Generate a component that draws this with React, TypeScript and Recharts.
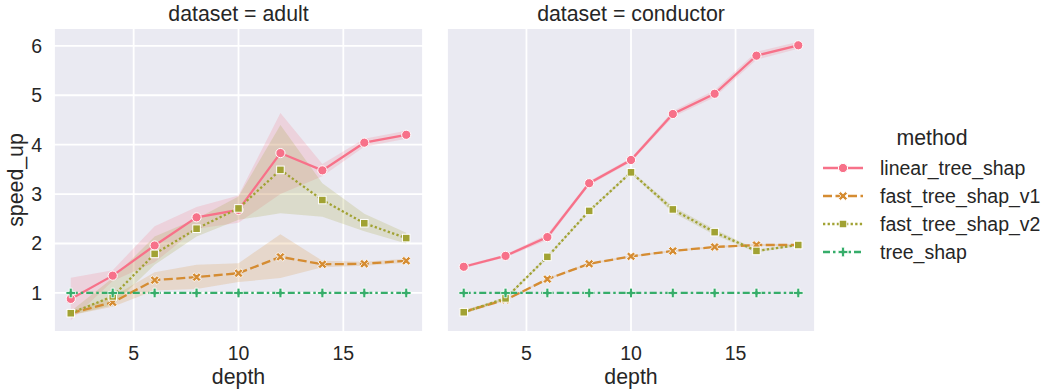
import { ComposedChart, Line, Area, XAxis, YAxis, CartesianGrid } from 'recharts';

const depths = [2, 4, 6, 8, 10, 12, 14, 16, 18];
const methodNames = ['linear_tree_shap', 'fast_tree_shap_v1', 'fast_tree_shap_v2', 'tree_shap'];
const xTicks = [5, 10, 15];
const yTicks = [1, 2, 3, 4, 5, 6];

// dataset = adult
const adultLinear = [0.88, 1.35, 1.96, 2.53, 2.68, 3.83, 3.48, 4.04, 4.2];
const adultLinearLo = [0.45, 1.24, 1.62, 2.3, 2.42, 3.0, 3.36, 3.96, 4.12];
const adultLinearHi = [1.31, 1.46, 2.35, 2.74, 2.97, 4.64, 3.61, 4.12, 4.28];
const adultV1 = [0.59, 0.81, 1.26, 1.32, 1.4, 1.73, 1.58, 1.59, 1.65];
const adultV1Lo = [0.55, 0.72, 1.05, 1.08, 1.22, 1.3, 1.52, 1.55, 1.61];
const adultV1Hi = [0.63, 0.93, 1.42, 1.57, 1.6, 2.19, 1.65, 1.63, 1.69];
const adultV2 = [0.59, 0.93, 1.79, 2.3, 2.71, 3.49, 2.88, 2.41, 2.11];
const adultV2Lo = [0.55, 0.75, 1.57, 2.14, 2.48, 2.61, 2.54, 2.25, 2.0];
const adultV2Hi = [0.63, 1.3, 2.14, 2.5, 2.95, 4.4, 3.22, 2.6, 2.22];
const adultTree = [1, 1, 1, 1, 1, 1, 1, 1, 1];

// dataset = conductor
const condLinear = [1.53, 1.75, 2.13, 3.22, 3.69, 4.62, 5.03, 5.8, 6.01];
const condLinearLo = [1.5, 1.72, 2.07, 3.18, 3.65, 4.56, 4.96, 5.72, 5.94];
const condLinearHi = [1.56, 1.78, 2.19, 3.26, 3.73, 4.68, 5.1, 5.88, 6.08];
const condV1 = [0.62, 0.86, 1.28, 1.59, 1.74, 1.85, 1.93, 1.97, 1.97];
const condV1Lo = [0.58, 0.84, 1.26, 1.57, 1.72, 1.83, 1.91, 1.95, 1.95];
const condV1Hi = [0.66, 0.88, 1.3, 1.61, 1.76, 1.87, 1.95, 1.99, 1.99];
const condV2 = [0.61, 0.89, 1.73, 2.66, 3.44, 2.69, 2.23, 1.85, 1.97];
const condV2Lo = [0.58, 0.86, 1.7, 2.63, 3.41, 2.63, 2.17, 1.82, 1.95];
const condV2Hi = [0.64, 0.92, 1.76, 2.69, 3.47, 2.75, 2.29, 1.88, 1.99];
const condTree = [1, 1, 1, 1, 1, 1, 1, 1, 1];

const COLORS = ['#f77189', '#d58c32', '#a1a233', '#36ad6a'];
const DASHES = [undefined, '9 3.5', '2.3 2.3', '7 3 2.5 3'];
const SHAPES = ['circle', 'x', 'square', 'plus'];
const FONT = '"Liberation Sans", Arial, sans-serif';
const TEXT = '#262626';

function buildRows(lin, linLo, linHi, v1, v1Lo, v1Hi, v2, v2Lo, v2Hi, tree) {
  return depths.map((d, i) => ({
    depth: d,
    m0: lin[i],
    b0: [linLo[i], linHi[i]],
    m1: v1[i],
    b1: [v1Lo[i], v1Hi[i]],
    m2: v2[i],
    b2: [v2Lo[i], v2Hi[i]],
    m3: tree[i],
  }));
}

const adultRows = buildRows(adultLinear, adultLinearLo, adultLinearHi, adultV1, adultV1Lo, adultV1Hi, adultV2, adultV2Lo, adultV2Hi, adultTree);
const condRows = buildRows(condLinear, condLinearLo, condLinearHi, condV1, condV1Lo, condV1Hi, condV2, condV2Lo, condV2Hi, condTree);

function Marker({ cx, cy, shape, color }) {
  if (cx == null || cy == null) return null;
  if (shape === 'circle') {
    return <circle cx={cx} cy={cy} r={4.6} fill={color} stroke="#fff" strokeWidth={1} />;
  }
  if (shape === 'square') {
    return <rect x={cx - 3.8} y={cy - 3.8} width={7.6} height={7.6} fill={color} stroke="#fff" strokeWidth={1} />;
  }
  const a = 4.8;
  const w = 1.5;
  const plus = `M${-w},${-a}H${w}V${-w}H${a}V${w}H${w}V${a}H${-w}V${w}H${-a}V${-w}H${-w}Z`;
  return (
    <path
      d={plus}
      transform={`translate(${cx},${cy}) rotate(${shape === 'x' ? 45 : 0})`}
      fill={color}
      stroke="#fff"
      strokeWidth={0.8}
    />
  );
}

function Panel({ rows, left, width, margin, showY }) {
  return (
    <div style={{ position: 'absolute', left, top: 0 }}>
      <ComposedChart width={width} height={390} data={rows} margin={margin}>
        <CartesianGrid fill="#eaeaf2" stroke="#ffffff" strokeWidth={1.8} />
        <XAxis
          dataKey="depth"
          type="number"
          domain={[1.2, 18.8]}
          ticks={xTicks}
          axisLine={false}
          tickLine={false}
          height={58}
          tickMargin={8}
          tick={{ fontSize: 19.5, fill: TEXT, fontFamily: FONT }}
          label={{ value: 'depth', position: 'insideBottom', offset: 6, fontSize: 21.3, fill: TEXT, fontFamily: FONT }}
        />
        <YAxis
          type="number"
          domain={[0.21, 6.36]}
          ticks={yTicks}
          axisLine={false}
          tickLine={false}
          width={showY ? 54 : 0}
          tickMargin={6}
          tick={showY ? { fontSize: 19.5, fill: TEXT, fontFamily: FONT } : false}
        />
        {[0, 1, 2].map((k) => (
          <Area
            key={`band-${k}`}
            dataKey={`b${k}`}
            stroke="none"
            fill={COLORS[k]}
            fillOpacity={0.2}
            dot={false}
            activeDot={false}
            isAnimationActive={false}
          />
        ))}
        {[0, 1, 2, 3].map((k) => (
          <Line
            key={`line-${k}`}
            dataKey={`m${k}`}
            stroke={COLORS[k]}
            strokeWidth={2.3}
            strokeDasharray={DASHES[k]}
            activeDot={false}
            isAnimationActive={false}
            dot={(p) => <Marker key={`dot-${k}-${p.index}`} cx={p.cx} cy={p.cy} shape={SHAPES[k]} color={COLORS[k]} />}
          />
        ))}
      </ComposedChart>
    </div>
  );
}

function Overlay() {
  const rowY = [168, 196, 224, 252];
  return (
    <svg width={1045} height={390} style={{ position: 'absolute', left: 0, top: 0, pointerEvents: 'none' }}>
      <g fontFamily={FONT} fill={TEXT}>
        <text x={238.5} y={21} fontSize={21.3} textAnchor="middle">dataset = adult</text>
        <text x={631} y={21} fontSize={21.3} textAnchor="middle">dataset = conductor</text>
        <text transform="translate(23,180) rotate(-90)" fontSize={21.3} textAnchor="middle">speed_up</text>
        <text x={932} y={145} fontSize={21.3} textAnchor="middle">method</text>
        {methodNames.map((name, k) => (
          <g key={name}>
            <line x1={823} x2={863} y1={rowY[k]} y2={rowY[k]} stroke={COLORS[k]} strokeWidth={2.3} strokeDasharray={DASHES[k]} />
            <Marker cx={843} cy={rowY[k]} shape={SHAPES[k]} color={COLORS[k]} />
            <text x={880} y={rowY[k] + 7} fontSize={19.5}>{name}</text>
          </g>
        ))}
      </g>
    </svg>
  );
}

export default function App() {
  return (
    <div style={{ position: 'absolute', left: 0, top: 0, width: 1045, height: 390, background: '#fff' }}>
      <Panel rows={adultRows} left={0} width={430} margin={{ top: 28, right: 7, bottom: 0, left: 0 }} showY />
      <Panel rows={condRows} left={440} width={380} margin={{ top: 28, right: 5, bottom: 0, left: 7 }} showY={false} />
      <Overlay />
    </div>
  );
}
